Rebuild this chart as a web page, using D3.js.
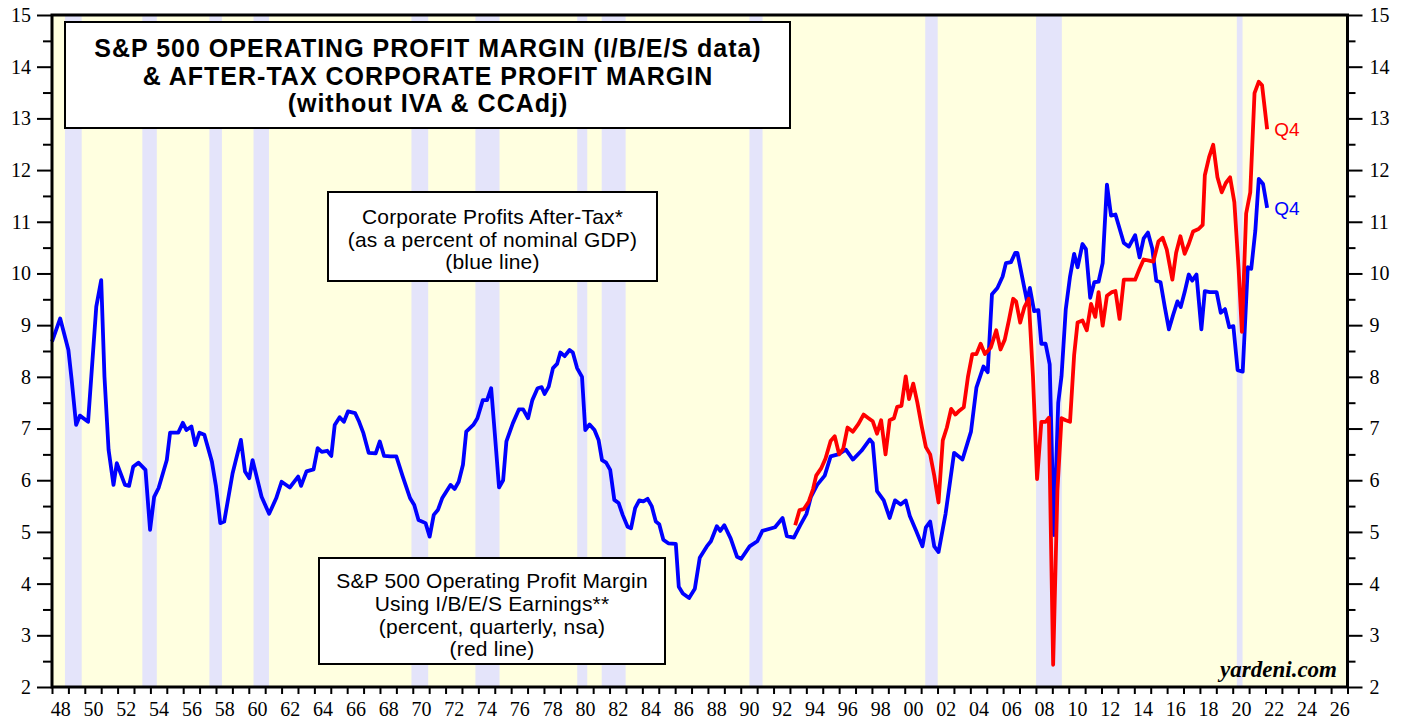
<!DOCTYPE html>
<html>
<head>
<meta charset="utf-8">
<script src="https://cdn.jsdelivr.net/npm/d3@7/dist/d3.min.js"></script>
<style>
  body { margin: 0; background: #fff; }
  svg { display: block; }
</style>
</head>
<body>
<svg></svg>
<script>
// Corporate profits after-tax, % of nominal GDP (blue)
var blueYears = [1948.0, 1948.5, 1949.0, 1949.2, 1949.47, 1949.7, 1950.2, 1950.7, 1951.0, 1951.2,
  1951.45, 1951.75, 1951.95, 1952.45, 1952.7, 1952.95, 1953.27, 1953.7, 1953.98, 1954.23,
  1954.5, 1955.0, 1955.2, 1955.7, 1955.98, 1956.2, 1956.5, 1956.74, 1956.99, 1957.29,
  1957.75, 1958.0, 1958.26, 1958.5, 1959.01, 1959.52, 1959.77, 1960.03, 1960.23, 1960.78,
  1961.24, 1961.67, 1962.0, 1962.5, 1963.01, 1963.19, 1963.52, 1963.95, 1964.2, 1964.45,
  1964.78, 1965.03, 1965.24, 1965.54, 1965.8, 1966.05, 1966.48, 1966.73, 1966.99, 1967.31,
  1967.74, 1967.99, 1968.25, 1968.63, 1969.0, 1969.39, 1969.84, 1970.09, 1970.35, 1970.78,
  1971.03, 1971.28, 1971.54, 1971.79, 1972.3, 1972.55, 1972.8, 1973.06, 1973.26, 1973.69,
  1973.94, 1974.27, 1974.53, 1974.78, 1975.0, 1975.26, 1975.51, 1975.71, 1976.1, 1976.47,
  1976.73, 1977.03, 1977.29, 1977.61, 1977.86, 1978.04, 1978.29, 1978.55, 1978.8, 1979.0,
  1979.26, 1979.56, 1979.76, 1980.02, 1980.32, 1980.52, 1980.78, 1981.08, 1981.33, 1981.54,
  1981.79, 1982.04, 1982.29, 1982.55, 1982.8, 1983.1, 1983.31, 1983.56, 1983.81, 1984.06,
  1984.32, 1984.57, 1984.82, 1985.03, 1985.28, 1985.58, 1986.04, 1986.22, 1986.47, 1986.85,
  1987.2, 1987.5, 1987.93, 1988.18, 1988.54, 1988.75, 1989.0, 1989.39, 1989.77, 1990.03,
  1990.54, 1991.01, 1991.32, 1992.09, 1992.55, 1992.81, 1993.24, 1993.63, 1994.01, 1994.28,
  1994.66, 1995.12, 1995.48, 1995.94, 1996.41, 1996.84, 1997.36, 1997.87, 1998.05, 1998.31,
  1998.72, 1999.08, 1999.41, 1999.75, 2000.06, 2000.31, 2000.7, 2001.08, 2001.29, 2001.55,
  2001.8, 2002.06, 2002.49, 2003.01, 2003.52, 2004.04, 2004.37, 2004.8, 2005.06, 2005.32,
  2005.65, 2005.97, 2006.17, 2006.48, 2006.74, 2006.87, 2007.25, 2007.46, 2007.63, 2007.89,
  2008.15, 2008.33, 2008.59, 2008.84, 2009.1, 2009.36, 2009.56, 2009.82, 2010.08, 2010.33,
  2010.54, 2010.84, 2011.05, 2011.31, 2011.56, 2011.82, 2012.07, 2012.33, 2012.58, 2012.85,
  2013.36, 2013.67, 2014.05, 2014.32, 2014.57, 2014.83, 2015.09, 2015.34, 2015.6, 2015.86,
  2016.11, 2016.37, 2016.63, 2016.83, 2017.07, 2017.32, 2017.53, 2017.79, 2018.09, 2018.3,
  2018.6, 2019.02, 2019.27, 2019.53, 2019.79, 2020.04, 2020.3, 2020.61, 2020.92, 2021.13,
  2021.38, 2021.59, 2021.85, 2022.1];
var blueValues = [8.68, 9.13, 8.52, 7.94, 7.07, 7.25, 7.13, 9.36, 9.87, 8.0,
  6.59, 5.91, 6.33, 5.91, 5.89, 6.26, 6.34, 6.2, 5.04, 5.68,
  5.85, 6.39, 6.92, 6.92, 7.11, 6.97, 7.04, 6.68, 6.92, 6.88,
  6.36, 5.88, 5.17, 5.2, 6.13, 6.78, 6.17, 6.04, 6.39, 5.68,
  5.35, 5.65, 5.97, 5.86, 6.07, 5.89, 6.17, 6.21, 6.62, 6.55,
  6.57, 6.47, 7.07, 7.22, 7.13, 7.33, 7.3, 7.13, 6.91, 6.53,
  6.52, 6.75, 6.47, 6.46, 6.46, 6.07, 5.65, 5.52, 5.23, 5.17,
  4.91, 5.33, 5.43, 5.65, 5.91, 5.83, 5.97, 6.3, 6.94, 7.07,
  7.2, 7.55, 7.55, 7.78, 6.91, 5.86, 6.0, 6.75, 7.1, 7.37,
  7.37, 7.2, 7.55, 7.78, 7.8, 7.67, 7.81, 8.17, 8.25, 8.47,
  8.4, 8.52, 8.47, 8.17, 8.0, 6.97, 7.08, 6.97, 6.78, 6.39,
  6.34, 6.2, 5.62, 5.56, 5.33, 5.1, 5.07, 5.46, 5.61, 5.59,
  5.64, 5.5, 5.2, 5.15, 4.85, 4.78, 4.77, 3.94, 3.81, 3.72,
  3.9, 4.5, 4.72, 4.82, 5.11, 5.02, 5.13, 4.87, 4.52, 4.48,
  4.72, 4.82, 5.02, 5.09, 5.27, 4.92, 4.89, 5.13, 5.35, 5.68,
  5.91, 6.09, 6.46, 6.5, 6.59, 6.4, 6.57, 6.79, 6.72, 5.79,
  5.61, 5.27, 5.61, 5.53, 5.61, 5.31, 5.02, 4.72, 5.09, 5.2,
  4.72, 4.61, 5.35, 6.53, 6.4, 6.94, 7.79, 8.2, 8.09, 9.6,
  9.72, 9.94, 10.2, 10.22, 10.4, 10.4, 9.79, 9.46, 9.72, 9.27,
  9.29, 8.64, 8.64, 8.24, 4.94, 7.5, 8.01, 9.31, 9.94, 10.38,
  10.12, 10.57, 10.47, 9.53, 9.83, 9.84, 10.2, 11.72, 11.12, 11.14,
  10.59, 10.52, 10.74, 10.31, 10.68, 10.79, 10.49, 9.86, 9.83, 9.35,
  8.92, 9.2, 9.46, 9.35, 9.64, 9.98, 9.86, 9.98, 8.92, 9.66,
  9.64, 9.64, 9.24, 9.31, 8.96, 8.98, 8.13, 8.1, 10.12, 10.09,
  10.83, 11.83, 11.73, 11.27];

// S&P 500 operating profit margin, I/B/E/S (red)
var redYears = [1993.32, 1993.58, 1993.84, 1994.15, 1994.41, 1994.6, 1994.92, 1995.17, 1995.48, 1995.73,
  1996.0, 1996.25, 1996.51, 1996.84, 1997.18, 1997.49, 1997.79, 1998.05, 1998.31, 1998.56,
  1998.83, 1999.08, 1999.34, 1999.54, 1999.8, 2000.06, 2000.26, 2000.52, 2000.77, 2001.03,
  2001.29, 2001.55, 2001.8, 2002.06, 2002.32, 2002.57, 2002.83, 2003.09, 2003.35, 2003.6,
  2003.86, 2004.12, 2004.37, 2004.63, 2004.89, 2005.25, 2005.58, 2005.84, 2006.1, 2006.35,
  2006.61, 2006.79, 2007.04, 2007.3, 2007.56, 2007.82, 2008.07, 2008.33, 2008.59, 2008.79,
  2009.05, 2009.31, 2009.56, 2009.82, 2010.08, 2010.33, 2010.54, 2010.84, 2011.1, 2011.36,
  2011.62, 2011.82, 2012.07, 2012.33, 2012.64, 2012.85, 2013.1, 2013.36, 2013.8, 2014.05,
  2014.32, 2014.57, 2014.9, 2015.16, 2015.47, 2015.73, 2015.98, 2016.32, 2016.55, 2016.81,
  2017.07, 2017.32, 2017.58, 2017.92, 2018.17, 2018.3, 2018.56, 2018.81, 2019.07, 2019.33,
  2019.58, 2019.84, 2020.1, 2020.36, 2020.56, 2020.82, 2021.07, 2021.33, 2021.59, 2021.79,
  2022.1];
var redValues = [5.13, 5.42, 5.44, 5.59, 5.83, 6.09, 6.24, 6.42, 6.76, 6.85,
  6.5, 6.61, 7.02, 6.94, 7.09, 7.27, 7.2, 7.14, 6.9, 7.16,
  6.5, 7.16, 7.2, 7.42, 7.44, 8.01, 7.57, 7.87, 7.5, 7.05,
  6.64, 6.5, 6.09, 5.57, 6.77, 7.02, 7.38, 7.27, 7.35, 7.41,
  8.01, 8.44, 8.44, 8.64, 8.44, 8.57, 8.9, 8.53, 8.72, 9.09,
  9.51, 9.46, 9.05, 9.35, 9.51, 8.01, 6.02, 7.13, 7.13, 7.21,
  2.43, 5.8, 7.2, 7.16, 7.13, 8.42, 9.05, 9.09, 8.9, 9.41,
  9.16, 9.64, 8.99, 9.57, 9.64, 9.66, 9.12, 9.88, 9.88, 9.88,
  10.09, 10.27, 10.25, 10.23, 10.62, 10.69, 10.46, 9.88, 10.4, 10.72,
  10.38, 10.57, 10.81, 10.86, 10.94, 11.9, 12.25, 12.49, 11.86, 11.57,
  11.75, 11.86, 11.38, 10.09, 8.87, 11.16, 11.57, 13.49, 13.71, 13.64,
  12.79];

// recession shading (start, end)
var recStart = [1948.79, 1953.51, 1957.6, 1960.29, 1969.92, 1973.82, 1980.03, 1981.52, 1990.53, 2001.25, 2008.01, 2020.25];
var recEnd   = [1949.81, 1954.39, 1958.36, 1961.23, 1970.94, 1975.29, 1980.64, 1982.98, 1991.33, 2002.01, 2009.58, 2020.6];

var yMajor = d3.range(2, 16);
var yMinor = d3.range(2.5, 15, 1);
var xYears = d3.range(1948, 2028);
var xLabelYears = d3.range(1948, 2027, 2);

var svgWidth = 1407, svgHeight = 719;
var svg = d3.select("svg")
    .attr("width", svgWidth)
    .attr("height", svgHeight);

var plotLeft = 52, plotRight = 1347.5, plotTop = 15, plotBottom = 687;
var x = d3.scaleLinear().domain([1948, 2027]).range([plotLeft, plotRight]);
var y = d3.scaleLinear().domain([2, 15]).range([plotBottom, plotTop]);

// plot background
svg.append("rect")
    .attr("x", plotLeft).attr("y", plotTop)
    .attr("width", plotRight - plotLeft).attr("height", plotBottom - plotTop)
    .attr("fill", "#ffffe0");

svg.append("g").selectAll("rect")
    .data(recStart)
    .enter().append("rect")
    .attr("x", function(d) { return x(d); })
    .attr("y", plotTop)
    .attr("width", function(d, i) { return x(recEnd[i]) - x(d); })
    .attr("height", plotBottom - plotTop)
    .attr("fill", "#e4e4fa");

// text boxes
var drawBox = (x0, y0, x1, y1, lines, cx, baselines, font) => {
  svg.append("rect")
    .attr("x", x0).attr("y", y0)
    .attr("width", x1 - x0).attr("height", y1 - y0)
    .attr("fill", "#fff")
    .attr("stroke", "#000")
    .attr("stroke-width", 2);
  lines.forEach(function(t, i) {
    svg.append("text")
      .attr("x", cx).attr("y", baselines[i])
      .attr("text-anchor", "middle")
      .attr("style", font)
      .text(t);
  });
};

drawBox(65, 22, 790, 128,
  ["S&P 500 OPERATING PROFIT MARGIN (I/B/E/S data)", "& AFTER-TAX CORPORATE PROFIT MARGIN", "(without IVA & CCAdj)"],
  428, [57, 85, 112], "font-family:'Liberation Sans',Arial,sans-serif;font-weight:bold;font-size:25px;letter-spacing:1px");

drawBox(328, 192, 657, 281,
  ["Corporate Profits After-Tax*", "(as a percent of nominal GDP)", "(blue line)"],
  492.5, [224, 247, 269], "font-family:'Liberation Sans',Arial,sans-serif;font-size:21px;letter-spacing:0.2px");

drawBox(319, 558, 665, 664,
  ["S&P 500 Operating Profit Margin", "Using I/B/E/S Earnings**", "(percent, quarterly, nsa)", "(red line)"],
  492, [588, 611, 634, 656], "font-family:'Liberation Sans',Arial,sans-serif;font-size:21px;letter-spacing:0.2px");

// lines
var line = d3.line()
    .x(function(d) { return x(d[0]); })
    .y(function(d) { return y(d[1]); });

var blue = d3.zip(blueYears, blueValues);
var red = d3.zip(redYears, redValues);

svg.append("path")
    .attr("d", line(blue))
    .attr("fill", "none")
    .attr("stroke", "#0000ff")
    .attr("stroke-width", 3.8)
    .attr("stroke-linejoin", "round");

svg.append("path")
    .attr("d", line(red))
    .attr("fill", "none")
    .attr("stroke", "#ff0000")
    .attr("stroke-width", 3.8)
    .attr("stroke-linejoin", "round");

var lastRed = red[red.length - 1], lastBlue = blue[blue.length - 1];
svg.append("text")
    .attr("x", x(lastRed[0]) + 7).attr("y", y(lastRed[1]) + 7)
    .attr("fill", "#ff0000")
    .attr("style", "font-family:'Liberation Sans',Arial,sans-serif;font-size:19px")
    .text("Q4");
svg.append("text")
    .attr("x", x(lastBlue[0]) + 7).attr("y", y(lastBlue[1]) + 7)
    .attr("fill", "#0000ff")
    .attr("style", "font-family:'Liberation Sans',Arial,sans-serif;font-size:19px")
    .text("Q4");

svg.append("text")
    .attr("x", 1337).attr("y", 677)
    .attr("text-anchor", "end")
    .attr("style", "font-family:'Liberation Serif','Times New Roman',serif;font-weight:bold;font-style:italic;font-size:23px")
    .text("yardeni.com");

// axes
var tickFont = "'Liberation Serif','Times New Roman',serif";

var styleAxis = g => {
  g.select(".domain").remove();
  g.selectAll(".tick line").attr("stroke", "#000").attr("stroke-width", 2);
  g.selectAll(".tick text").attr("fill", "#000").style("font-family", tickFont).style("font-size", "20px");
};

svg.append("g").attr("transform", "translate(" + plotLeft + ",0)")
    .call(d3.axisLeft(y).tickValues(yMajor).tickSize(15).tickPadding(6).tickFormat(d3.format("d")))
    .call(styleAxis);
svg.append("g").attr("transform", "translate(" + plotLeft + ",0)")
    .call(d3.axisLeft(y).tickValues(yMinor).tickSize(9).tickFormat(""))
    .call(styleAxis);

svg.append("g").attr("transform", "translate(" + plotRight + ",0)")
    .call(d3.axisRight(y).tickValues(yMajor).tickSize(15).tickPadding(7).tickFormat(d3.format("d")))
    .call(styleAxis);
svg.append("g").attr("transform", "translate(" + plotRight + ",0)")
    .call(d3.axisRight(y).tickValues(yMinor).tickSize(8).tickFormat(""))
    .call(styleAxis);

svg.append("g").attr("transform", "translate(0," + plotBottom + ")")
    .call(d3.axisBottom(x).tickValues(xYears).tickSize(7).tickFormat(""))
    .call(styleAxis);
svg.append("g").attr("transform", "translate(0," + plotBottom + ")")
    .call(d3.axisBottom(x).tickValues(xLabelYears.map(function(d) { return d + 0.5; }))
      .tickSize(0).tickPadding(15)
      .tickFormat(function(d) { return String(Math.floor(d) % 100).padStart(2, "0"); }))
    .call(styleAxis);

// frame
svg.append("rect")
    .attr("x", plotLeft).attr("y", plotTop)
    .attr("width", plotRight - plotLeft).attr("height", plotBottom - plotTop)
    .attr("fill", "none")
    .attr("stroke", "#000")
    .attr("stroke-width", 3);
</script>
</body>
</html>
